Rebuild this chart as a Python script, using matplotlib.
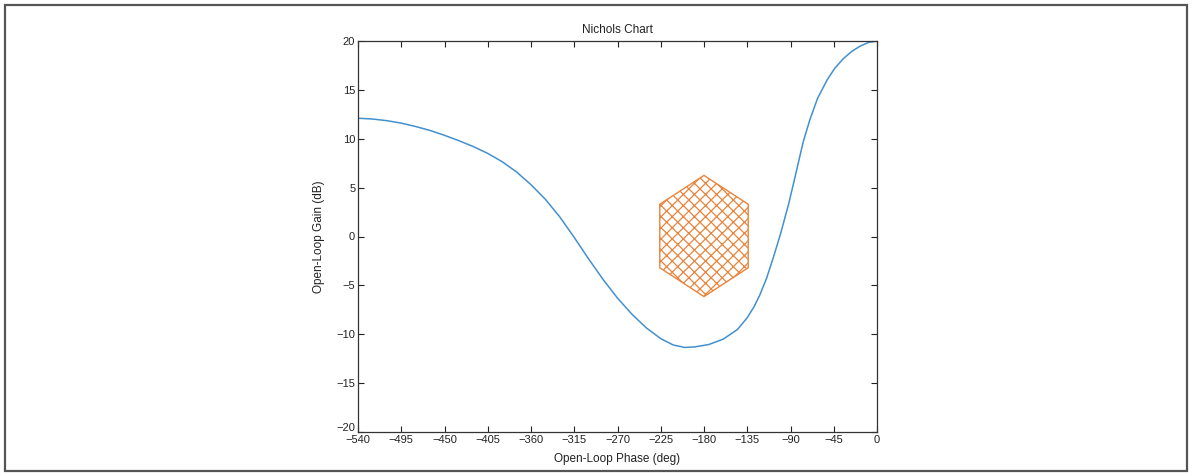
import matplotlib
matplotlib.use("Agg")
import matplotlib.pyplot as plt
import matplotlib.transforms as mtransforms
from matplotlib.patches import Polygon, Rectangle

plt.rcParams['font.family'] = ['Liberation Sans', 'DejaVu Sans']
plt.rcParams['hatch.linewidth'] = 0.9

# Nichols curve (open-loop phase in deg, gain in dB)
phase = [-540, -525, -510, -495, -480, -465, -450, -435, -420, -405, -390,
         -375, -360, -345, -330, -315, -300, -285, -270, -255, -240, -225,
         -212, -200, -190, -175, -160, -145, -135, -128, -122, -115, -108,
         -100, -92, -85, -77, -70, -62, -52, -44, -35, -26, -18, -9, 0]
gain = [12.1, 12.02, 11.85, 11.6, 11.25, 10.85, 10.35, 9.8, 9.2, 8.5, 7.65,
        6.6, 5.3, 3.8, 2.0, -0.1, -2.3, -4.4, -6.3, -7.95, -9.35, -10.45,
        -11.1, -11.35, -11.3, -11.05, -10.5, -9.5, -8.3, -7.2, -6.0, -4.3, -2.2,
        0.4, 3.3, 6.2, 9.6, 11.9, 14.1, 16.0, 17.2, 18.2, 18.95, 19.45, 19.85, 20.0]

# Hatched hexagon region
hex_phase = [-180, -134, -134, -180, -226, -226]
hex_gain = [6.25, 3.3, -3.2, -6.15, -3.2, 3.3]

xticks = [-540, -495, -450, -405, -360, -315, -270, -225, -180, -135, -90, -45, 0]
yticks = [-20, -15, -10, -5, 0, 5, 10, 15, 20]

fig = plt.figure(figsize=(11.94, 4.75), dpi=100)
fig.patches.append(Rectangle((5/1194, 4/475), 1182/1194, 466/475,
                             transform=fig.transFigure, fill=False,
                             edgecolor='#555555', linewidth=1.6))

ax = fig.add_axes([358/1194, 1 - 432/475, 519/1194, 391/475])

ax.add_patch(Polygon(list(zip(hex_phase, hex_gain)), closed=True,
                     facecolor='none', edgecolor='#E8843C', hatch='xxx',
                     linewidth=1.0))
ax.plot(phase, gain, color='#4390CF', linewidth=1.1)

ax.set_xlim(-540, 0)
ax.set_ylim(-20, 20)
ax.set_xticks(xticks)
ax.set_yticks(yticks)
ax.tick_params(direction='in', top=True, right=True, length=4, width=0.8,
               labelsize=8, colors='#222222', pad=2)
for s in ax.spines.values():
    s.set_color('#333333')
    s.set_linewidth(0.9)

# nudge the bottom y label up so it does not collide with the first x label
lab = ax.get_yticklabels()[0]
lab.set_transform(lab.get_transform() +
                  mtransforms.ScaledTranslation(0, 0.05, fig.dpi_scale_trans))

ax.set_title('Nichols Chart', fontsize=8.5, color='#222222', pad=6)
ax.set_xlabel('Open-Loop Phase (deg)', fontsize=8.5, color='#222222', labelpad=6)
ax.set_ylabel('Open-Loop Gain (dB)', fontsize=8.5, color='#222222', labelpad=8)

fig.savefig('out.png', dpi=100)
